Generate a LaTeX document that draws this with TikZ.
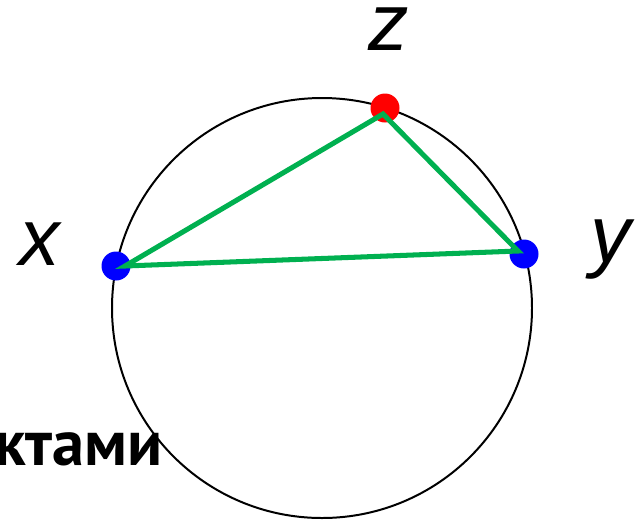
\documentclass[tikz,border=0pt]{standalone}
\usepackage{fontspec}
\setmainfont{Liberation Sans}
\newfontfamily\ruFont{PT Sans}
\usepackage{tikz}
\definecolor{ucgenYesil}{HTML}{00B050}
\definecolor{noktaMavi}{HTML}{0000FF}
\definecolor{noktaKirmizi}{HTML}{FF0000}

\begin{document}
\begin{tikzpicture}[x=0.03cm,y=-0.03cm,
  nokta/.style={circle,inner sep=0pt,minimum size=0.87cm},
  harf/.style={anchor=base,inner sep=0pt,font=\itshape\fontsize{69}{69}\selectfont}]
\useasboundingbox (0,0) rectangle (644,519);
\clip (0,0) rectangle (644,519);
\draw[line width=1.7pt] (322,308) circle [radius=210];
\node[nokta,fill=noktaMavi] (x) at (116,266) {};
\node[nokta,fill=noktaMavi] (y) at (524,254) {};
\node[nokta,fill=noktaKirmizi] (z) at (385,108) {};
\coordinate (ux) at (125,266);
\coordinate (uy) at (518,251);
\coordinate (uz) at (383,114);
\draw[ucgenYesil,line width=4.3pt] (ux)--(uz)--(uy)--cycle;
\node[harf] (xlab) at (40,265) {x};
\node[harf] (ylab) at (611,262) {y};
\node[harf] (zlab) at (389,50) {z};
\node[anchor=base east,inner sep=0pt,font=\ruFont\bfseries\fontsize{55}{55}\selectfont] (metin) at (163,465) {ктами};
\end{tikzpicture}
\end{document}
